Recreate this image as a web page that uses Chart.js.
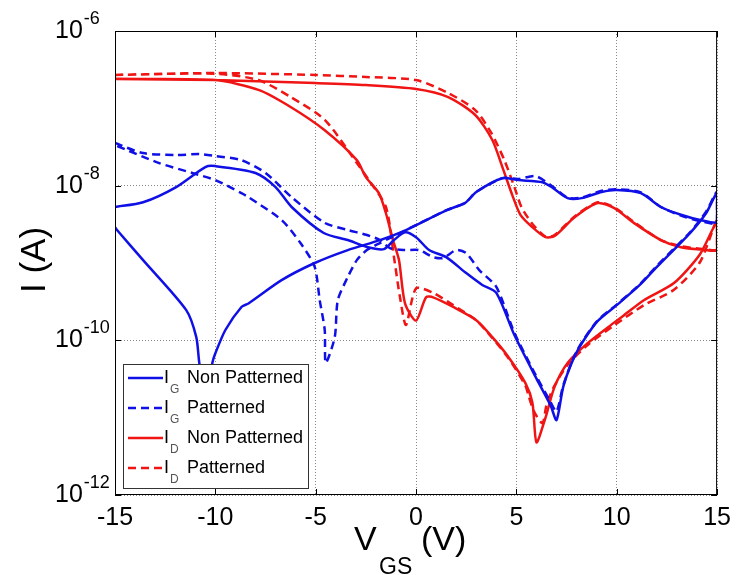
<!DOCTYPE html>
<html>
<head>
<meta charset="utf-8">
<script src="https://cdn.jsdelivr.net/npm/chart.js@4.4.0/dist/chart.umd.min.js"></script>
<style>
  body { margin: 0; background: #fff; }
  #wrap { width: 739px; height: 575px; }
</style>
</head>
<body>
<div id="wrap"><canvas id="chart" width="739" height="575"></canvas></div>
<script>
// Axis ticks
const xTicks = [-15, -10, -5, 0, 5, 10, 15];
const yTicks = [1e-12, 1e-10, 1e-8, 1e-6];

// I_G non patterned (sweep -15 -> 15, then back)
const vIgNP = [-15, -13.6, -11.95, -10.5, -10, -8, -7, -6.2, -4.6, -3.4, -2.45, -1.6, -1.1, -0.55, 0, 0.65, 1.5, 2.5, 3.3, 4, 4.9, 6, 6.7, 7, 7.35, 8, 9, 10, 11.15, 12, 13.65, 14.45, 15,
  15, 14.15, 13.2, 12.2, 11.2, 10, 9.25, 8.25, 7.55, 6.75, 6.3, 5.1, 4.3, 3, 2.45, 1.5, -0.5, -1.8, -3.4, -5.05, -6.7, -8.35, -8.7, -9.5, -10, -10.15, -10.45, -10.8, -10.95, -11.45, -13.6, -14.9, -15];
const iIgNP = [5.3e-9, 6.1e-9, 9.6e-9, 1.74e-8, 1.79e-8, 1.46e-8, 9.6e-9, 5.3e-9, 2.44e-9, 1.98e-9, 1.61e-9, 1.51e-9, 1.98e-9, 2.5e-9, 2.16e-9, 1.47e-9, 1.19e-9, 7.4e-10, 5.2e-10, 4.1e-10, 1.17e-10, 3.2e-11, 1.45e-11, 9.3e-12, 2.6e-11, 7.0e-11, 1.72e-10, 2.85e-10, 5.2e-10, 8.9e-10, 2.44e-9, 4.4e-9, 8.0e-9,
  3.4e-9, 3.6e-9, 4.2e-9, 5.3e-9, 8.0e-9, 8.8e-9, 8.3e-9, 6.9e-9, 6.9e-9, 9.6e-9, 1.11e-8, 1.18e-8, 1.25e-8, 8.3e-9, 6.0e-9, 4.8e-9, 2.67e-9, 1.98e-9, 1.47e-9, 1.0e-9, 6.0e-10, 3.0e-10, 2.7e-10, 1.36e-10, 6.8e-11, 5.1e-11, 1.5e-11, 5.1e-11, 1.1e-10, 2.46e-10, 1.09e-9, 2.67e-9, 2.9e-9];

// I_G patterned
const vIgP = [-15, -13.6, -11.95, -10.8, -10, -8.7, -7.5, -6.2, -4.55, -3.4, -2.45, -1.8, -1.3, -0.6, 0.15, 0.85, 1.35, 2, 2.5, 3.15, 4, 4.9, 6, 6.7, 7, 7.35, 8, 9, 10, 11.15, 12, 13.65, 14.45, 15,
  15, 14.15, 13.2, 12.2, 11.2, 10, 9.25, 8.25, 7.55, 6.75, 5.95, 5.1, 4.3, 3, 2.45, 1.5, -0.5, -1.8, -2.45, -2.95, -3.4, -3.9, -4.05, -4.5, -4.55, -4.8, -5.05, -5.75, -6.7, -8.35, -8.7, -10, -11.15, -12.8, -15];
const iIgP = [3.56e-8, 2.64e-8, 2.49e-8, 2.56e-8, 2.42e-8, 2.14e-8, 1.46e-8, 7.1e-9, 3.3e-9, 2.67e-9, 2.3e-9, 1.98e-9, 1.56e-9, 1.47e-9, 1.47e-9, 1.19e-9, 1.16e-9, 1.47e-9, 1.34e-9, 8.1e-10, 4.9e-10, 1.25e-10, 3.4e-11, 1.6e-11, 1.2e-11, 2.7e-11, 7.2e-11, 1.75e-10, 2.9e-10, 5.3e-10, 9.2e-10, 2.5e-9, 4.6e-9, 8.3e-9,
  3.3e-9, 3.5e-9, 4.1e-9, 5.3e-9, 8.2e-9, 9.0e-9, 8.6e-9, 7.0e-9, 7.0e-9, 1.0e-8, 1.33e-8, 1.22e-8, 1.25e-8, 8.3e-9, 6.0e-9, 4.8e-9, 2.67e-9, 1.81e-9, 1.47e-9, 1.09e-9, 6.6e-10, 3.3e-10, 1.1e-10, 5.1e-11, 1.36e-10, 3.3e-10, 8.9e-10, 1.8e-9, 3.6e-9, 7.1e-9, 8.0e-9, 1.18e-8, 1.46e-8, 1.96e-8, 3.35e-8];

// I_D non patterned
const vIdNP = [-15, -10, -5, -2.5, 0, 1.6, 2.95, 3.8, 4.35, 4.8, 5.2, 5.8, 6.45, 6.9, 7.9, 9.05, 9.9, 10.85, 12.2, 13.2, 14.45, 15,
  15, 14.15, 12.85, 11.35, 10.35, 9.9, 8.55, 7.55, 6.9, 6.45, 6.0, 5.8, 5.45, 4.6, 3.8, 3.0, 1.85, 0.85, 0.5, 0.0, -0.55, -0.85, -1.15, -1.5, -1.85, -2.5, -2.95, -4.55, -6.25, -7.85, -10, -15];
const iIdNP = [2.39e-7, 2.32e-7, 2.12e-7, 2.0e-7, 1.78e-7, 1.40e-7, 8.2e-8, 3.9e-8, 1.6e-8, 7.5e-9, 4.2e-9, 2.9e-9, 2.16e-9, 2.23e-9, 3.9e-9, 5.96e-9, 5.1e-9, 3.3e-9, 1.98e-9, 1.6e-9, 1.47e-9, 1.47e-9,
  3.4e-9, 1.3e-9, 5.5e-10, 3.3e-10, 2.1e-10, 1.72e-10, 9.2e-11, 5.1e-11, 2.5e-11, 1.0e-11, 4.8e-12, 1.55e-11, 2.8e-11, 6.1e-11, 1.1e-10, 1.82e-10, 2.7e-10, 3.6e-10, 3.6e-10, 1.8e-10, 3.0e-10, 1.09e-9, 1.98e-9, 4.4e-9, 8.0e-9, 1.29e-8, 2.14e-8, 5.2e-8, 1.04e-7, 1.73e-7, 2.32e-7, 2.39e-7];

// I_D patterned
const vIdP = [-15, -10, -5, -2.5, 0, 1.6, 2.95, 3.75, 4.4, 4.9, 5.25, 5.8, 6.45, 6.9, 7.9, 9.05, 9.9, 10.85, 12.2, 13.2, 14.45, 15,
  15, 14.15, 12.85, 11.35, 9.9, 8.55, 7.55, 6.9, 6.5, 6.3, 5.9, 5.6, 5.45, 4.6, 3.8, 3.0, 1.85, 0.85, 0.0, -0.5, -0.8, -1.1, -1.5, -2.35, -2.95, -4.55, -6.25, -7.85, -10, -15];
const iIdP = [2.7e-7, 2.86e-7, 2.7e-7, 2.54e-7, 2.32e-7, 1.58e-7, 9.5e-8, 4.8e-8, 2.14e-8, 9.6e-9, 5.3e-9, 3.2e-9, 2.2e-9, 2.3e-9, 4.0e-9, 6.1e-9, 5.2e-9, 3.4e-9, 1.98e-9, 1.65e-9, 1.5e-9, 1.5e-9,
  3.6e-9, 1.03e-9, 4.5e-10, 2.85e-10, 1.58e-10, 8.7e-11, 4.8e-11, 2.6e-11, 1.45e-11, 8.5e-12, 1.17e-11, 1.94e-11, 2.6e-11, 5.9e-11, 1.07e-10, 1.82e-10, 2.85e-10, 4.1e-10, 4.7e-10, 1.58e-10, 3.6e-10, 1.19e-9, 5.3e-9, 1.18e-8, 1.96e-8, 7.1e-8, 1.4e-7, 2.32e-7, 2.8e-7, 2.7e-7];

const FONT = "'Liberation Sans', Arial, sans-serif";
const BLUE = '#1010e6';
const RED = '#f01414';
const DASH = [8, 5];

const pts = (xs, ys) => xs.map((x, i) => ({ x: x, y: ys[i] }));

const series = [
  { sub: 'G', name: 'Non Patterned', color: BLUE, dash: [], data: pts(vIgNP, iIgNP) },
  { sub: 'G', name: 'Patterned', color: BLUE, dash: DASH, data: pts(vIgP, iIgP) },
  { sub: 'D', name: 'Non Patterned', color: RED, dash: [], data: pts(vIdNP, iIdNP) },
  { sub: 'D', name: 'Patterned', color: RED, dash: DASH, data: pts(vIdP, iIdP) }
];

// Box, inner ticks, y labels, titles and legend (MATLAB look)
const decor = {
  id: 'decor',
  afterDatasetsDraw(chart) {
    const { ctx, chartArea: a, scales } = chart;
    const x = scales.x, y = scales.y;
    ctx.save();
    ctx.strokeStyle = '#000';
    ctx.lineWidth = 1;
    ctx.setLineDash([]);
    ctx.strokeRect(a.left + 0.5, a.top + 0.5, a.right - a.left - 1, a.bottom - a.top - 1);

    ctx.beginPath();
    xTicks.forEach(v => {
      const px = Math.round(x.getPixelForValue(v)) + 0.5;
      ctx.moveTo(px, a.bottom); ctx.lineTo(px, a.bottom - 6);
      ctx.moveTo(px, a.top); ctx.lineTo(px, a.top + 6);
    });
    yTicks.forEach(v => {
      const py = Math.round(y.getPixelForValue(v)) + 0.5;
      ctx.moveTo(a.left, py); ctx.lineTo(a.left + 6, py);
      ctx.moveTo(a.right, py); ctx.lineTo(a.right - 6, py);
    });
    ctx.stroke();

    // y tick labels 10^n
    ctx.fillStyle = '#000';
    ctx.textAlign = 'left';
    ctx.textBaseline = 'middle';
    yTicks.forEach(v => {
      const py = y.getPixelForValue(v);
      const e = Math.round(Math.log10(v));
      ctx.font = '25px ' + FONT;
      ctx.fillText('10', 55, py);
      const w = ctx.measureText('10').width;
      ctx.font = '18px ' + FONT;
      ctx.fillText(String(e), 55 + w + 1, py - 12);
    });

    // x title V_GS (V)
    ctx.textBaseline = 'alphabetic';
    ctx.font = '34px ' + FONT;
    ctx.fillText('V', 354, 550);
    ctx.font = '23px ' + FONT;
    ctx.fillText('GS', 379, 574);
    ctx.font = '34px ' + FONT;
    ctx.fillText('(V)', 421, 550);

    // y title
    ctx.save();
    ctx.translate(35, 260);
    ctx.rotate(-Math.PI / 2);
    ctx.textAlign = 'center';
    ctx.textBaseline = 'middle';
    ctx.font = '35px ' + FONT;
    ctx.fillText('I (A)', 0, 0);
    ctx.restore();

    // legend
    const lx = 123, ly = 364, lw = 185, lh = 124;
    ctx.fillStyle = '#fff';
    ctx.fillRect(lx, ly, lw, lh);
    ctx.strokeStyle = '#333';
    ctx.strokeRect(lx + 0.5, ly + 0.5, lw, lh);
    series.forEach((s, i) => {
      const ry = 378 + i * 30;
      ctx.strokeStyle = s.color;
      ctx.lineWidth = 2.5;
      ctx.setLineDash(s.dash);
      ctx.beginPath();
      ctx.moveTo(128, ry); ctx.lineTo(163, ry);
      ctx.stroke();
      ctx.setLineDash([]);
      ctx.fillStyle = '#000';
      ctx.textAlign = 'left';
      ctx.textBaseline = 'middle';
      ctx.font = '18px ' + FONT;
      ctx.fillText('I', 164, ry);
      ctx.fillText(s.name, 187, ry);
      ctx.fillStyle = '#555';
      ctx.textBaseline = 'alphabetic';
      ctx.font = '12px ' + FONT;
      ctx.fillText(s.sub, 170, ry + 15);
    });
    ctx.restore();
  }
};

new Chart(document.getElementById('chart'), {
  type: 'scatter',
  data: {
    datasets: series.map(s => ({
      label: 'I' + s.sub + ' ' + s.name,
      data: s.data,
      showLine: true,
      borderColor: s.color,
      backgroundColor: s.color,
      borderWidth: 2.5,
      borderDash: s.dash,
      pointRadius: 0,
      tension: 0.25,
      fill: false
    }))
  },
  options: {
    responsive: false,
    animation: false,
    layout: { padding: { top: 31, right: 15, left: 0, bottom: 0 } },
    plugins: { legend: { display: false }, tooltip: { enabled: false } },
    scales: {
      x: {
        type: 'linear', min: -15, max: 15,
        afterBuildTicks: s => { s.ticks = xTicks.map(v => ({ value: v })); },
        afterFit: s => { s.height = 80; },
        grid: { color: '#888', lineWidth: 1, drawTicks: false },
        border: { display: false, dash: [1, 2] },
        ticks: { color: '#000', font: { family: FONT, size: 25 }, padding: 8, maxRotation: 0 }
      },
      y: {
        type: 'logarithmic', min: 1e-12, max: 1e-6,
        afterBuildTicks: s => { s.ticks = yTicks.map(v => ({ value: v })); },
        afterFit: s => { s.width = 115; },
        grid: { color: '#888', lineWidth: 1, drawTicks: false },
        border: { display: false, dash: [1, 2] },
        ticks: { display: false }
      }
    }
  },
  plugins: [decor]
});
</script>
</body>
</html>
